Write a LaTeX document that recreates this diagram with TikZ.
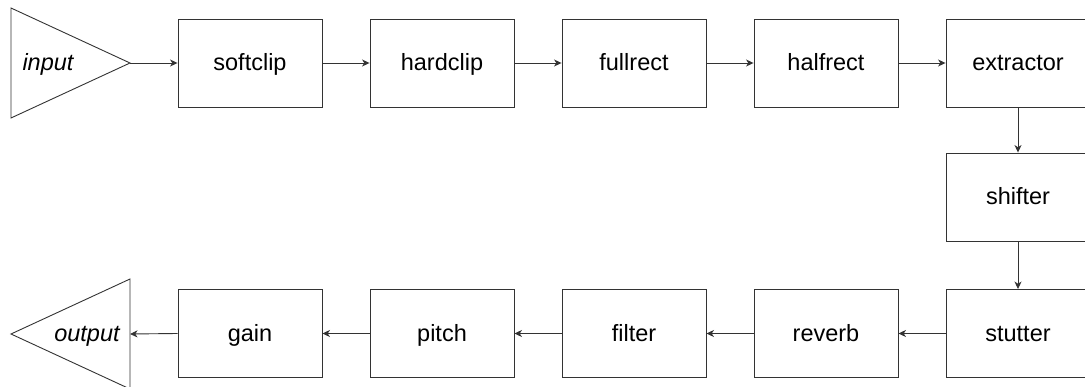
\documentclass[tikz,border=0pt]{standalone}
\usepackage{fontspec}
\setmainfont{Liberation Sans}
\usetikzlibrary{arrows.meta}
\definecolor{ln}{HTML}{333333}
\begin{document}
\begin{tikzpicture}[x=1pt,y=-1pt,
  blk/.style={draw=ln,line width=0.9pt,minimum width=144pt,minimum height=88pt,inner sep=0pt,text height=20pt,text depth=4.6pt,font=\fontsize{23.5}{28}\selectfont},
  lbl/.style={inner sep=0pt,text height=20pt,text depth=4.6pt,font=\fontsize{23.5}{28}\selectfont\itshape},
  conn/.style={draw=ln,line width=0.9pt,-{Stealth[length=7.5pt,width=7pt,inset=2.2pt]}},
  tri/.style={draw=ln,line width=0.9pt,line join=miter}]
\useasboundingbox (0,0) rectangle (1085,387);
% input triangle
\draw[tri] (11,8) -- (130,63) -- (11,118) -- cycle;
\coordinate (inapex) at (130,63);
\node[lbl] (input) at (48,63) {input};
% output triangle
\draw[tri] (130,279) -- (11,334) -- (130,389) -- cycle;
\coordinate (outedge) at (130,334);
\node[lbl] (output) at (87,334) {output};
% row 1
\node[blk] (softclip) at (250,63) {softclip};
\node[blk] (hardclip) at (442,63) {hardclip};
\node[blk] (fullrect) at (634,63) {fullrect};
\node[blk] (halfrect) at (826,63) {halfrect};
\node[blk] (extractor) at (1018,63) {extractor};
% column
\node[blk] (shifter) at (1018,197) {shifter};
% row 3
\node[blk] (stutter) at (1018,333.5) {stutter};
\node[blk] (reverb) at (826,333.5) {reverb};
\node[blk] (filter) at (634,333.5) {filter};
\node[blk] (pitch) at (442,333.5) {pitch};
\node[blk] (gain) at (250,333.5) {gain};
% connectors
\draw[conn] (inapex) -- (softclip.west);
\draw[conn] (softclip) -- (hardclip);
\draw[conn] (hardclip) -- (fullrect);
\draw[conn] (fullrect) -- (halfrect);
\draw[conn] (halfrect) -- (extractor);
\draw[conn] (extractor) -- (shifter);
\draw[conn] (shifter) -- (stutter);
\draw[conn] (stutter) -- (reverb);
\draw[conn] (reverb) -- (filter);
\draw[conn] (filter) -- (pitch);
\draw[conn] (pitch) -- (gain);
\draw[conn] (gain.west) -- (outedge);
\end{tikzpicture}
\end{document}
